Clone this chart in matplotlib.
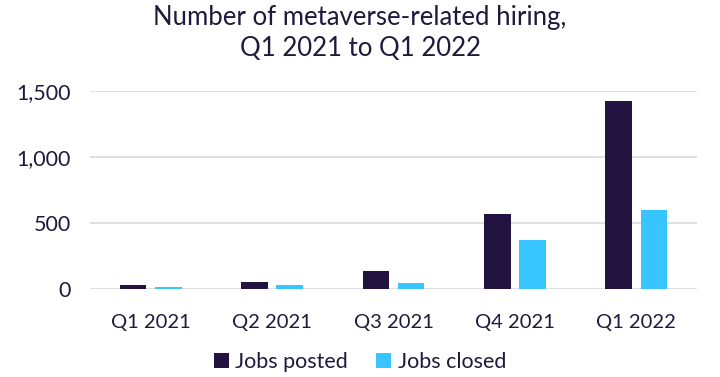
import numpy as np
import matplotlib.pyplot as plt
from matplotlib.ticker import FuncFormatter

# values
quarters = ['Q1 2021', 'Q2 2021', 'Q3 2021', 'Q4 2021', 'Q1 2022']
jobs_posted = [28, 56, 134, 566, 1422]
jobs_closed = [15, 30, 43, 374, 596]

navy = '#231341'
sky = '#38C4FF'
txt = '#1E1A3C'

plt.rcParams['font.family'] = ['Lato', 'DejaVu Sans']

fig = plt.figure(figsize=(7.2, 3.77), dpi=100)
ax = fig.add_axes([0.125, 0.2334, 0.843, 0.5252])

x = np.arange(len(quarters))
w = 0.22
ax.bar(x - 0.145, jobs_posted, w, color=navy, label='Jobs posted', zorder=3)
ax.bar(x + 0.145, jobs_closed, w, color=sky, label='Jobs closed', zorder=3)

ax.set_xlim(-0.5, len(quarters) - 0.5)
ax.set_ylim(0, 1500)
ax.set_yticks([0, 500, 1000, 1500])
ax.yaxis.set_major_formatter(FuncFormatter(lambda v, p: f'{int(v):,}'))
ax.set_xticks(x)
ax.set_xticklabels(quarters)
ax.grid(axis='y', color='#D9D9D9', linewidth=1.2, zorder=0)
for s in ax.spines.values():
    s.set_visible(False)
ax.tick_params(length=0, labelcolor=txt)
ax.tick_params(axis='y', pad=14, labelsize=15.5)
ax.tick_params(axis='x', pad=18, labelsize=14.5)

fig.text(0.5, 1 - 17 / 377, 'Number of metaverse-related hiring,',
         ha='center', va='center', fontsize=18.5, color=txt)
fig.text(0.5, 1 - 48 / 377, 'Q1 2021 to Q1 2022',
         ha='center', va='center', fontsize=18.5, color=txt)

fig.legend(loc='center', bbox_to_anchor=(0.5, 1 - 362 / 377), ncol=2, frameon=False,
           fontsize=15.5, labelcolor=txt, handlelength=0.7, handleheight=0.7,
           columnspacing=1.3, handletextpad=0.3)

fig.savefig('out.png', dpi=100)
